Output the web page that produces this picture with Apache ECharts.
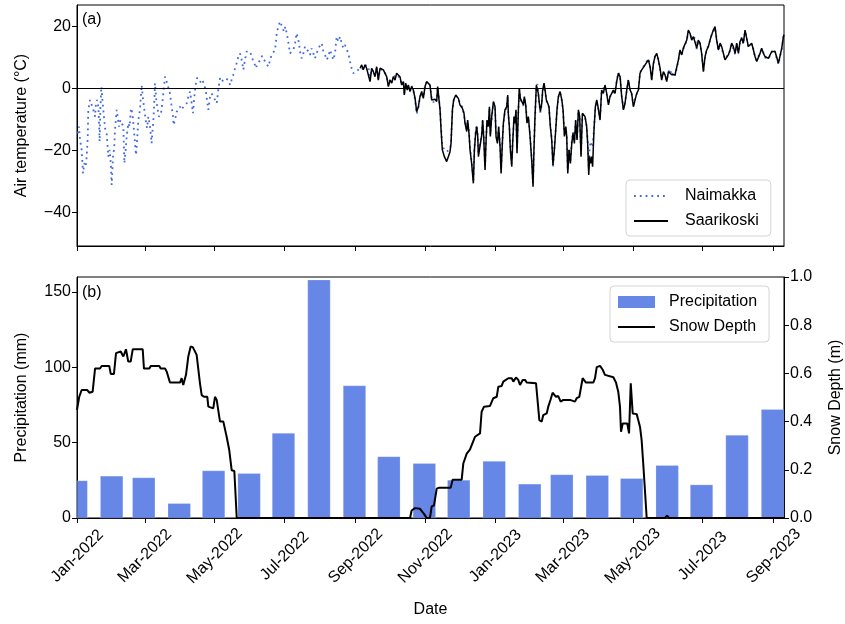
<!DOCTYPE html>
<html><head><meta charset="utf-8">
<script src="https://cdn.jsdelivr.net/npm/echarts@6/dist/echarts.min.js"></script>
<style>html,body{margin:0;padding:0;background:#fff}#c{width:845px;height:624px}</style>
</head><body><div id="c"></div>
<script>
// ---- data (days counted from 2022-01-01) ----
const startDate = '2022-01-01';
const xTickDates = ['2022-01-01','2022-03-01','2022-05-01','2022-07-01','2022-09-01','2022-11-01','2023-01-01','2023-03-01','2023-05-01','2023-07-01','2023-09-01'];
const monthNames = ['Jan','Feb','Mar','Apr','May','Jun','Jul','Aug','Sep','Oct','Nov','Dec'];
const tempTicks = [-40, -20, 0, 20];
const precipTicks = [0, 50, 100, 150];
const snowTicks = [0, 0.2, 0.4, 0.6, 0.8, 1.0];

// Naimakka only (Jan - early Sep 2022)
const earlyDays = [0.3,1.5,2.4,3.8,5.0,6.1,7.3,8.2,9.1,9.6,11.1,12.5,14.0,15.5,16.0,17.2,18.4,18.9,19.5,20.1,21.0,21.9,23.0,24.2,25.6,26.5,27.1,28.3,29.4,30.0,31.2,32.3,32.9,34.4,35.2,36.4,37.6,38.7,40.2,41.1,42.2,43.1,44.6,45.7,46.9,48.1,49.2,50.4,51.3,52.4,53.3,54.7,56.2,57.1,58.2,59.7,60.9,62.0,63.5,64.9,66.4,67.3,67.8,69.0,70.2,71.3,73.1,74.2,75.4,76.6,78.0,79.5,80.9,82.4,83.6,84.1,85.3,86.8,88.2,89.7,91.1,92.6,94.0,95.5,97.0,98.4,99.9,101.0,102.2,103.3,104.5,106.3,108.0,109.5,110.9,112.1,113.2,114.4,115.9,117.3,118.8,120.2,121.7,123.1,124.6,126.1,127.5,129.0,130.4,131.9,133.3,134.8,136.2,137.7,139.1,140.6,142.1,143.5,145.0,146.4,147.9,149.3,150.8,152.2,153.7,155.1,156.0,157.2,158.9,160.1,161.3,162.4,163.9,165.3,166.8,168.3,169.7,171.2,172.6,173.5,174.1,175.5,177.0,178.4,179.3,180.5,181.6,182.8,183.7,184.6,185.7,187.2,188.6,190.1,191.5,193.0,193.9,194.4,195.9,197.4,198.8,200.3,201.7,203.2,204.6,206.1,207.5,209.0,210.4,211.9,213.4,214.8,216.3,217.7,219.2,220.6,222.1,223.5,225.0,226.4,227.9,229.4,230.8,232.3,233.7,235.2,236.6,238.1,239.5,241.0,243.9];
const naimakkaEarlyTemp = [-14.5,-12.3,-16.6,-19.8,-27.4,-24.1,-25.2,-22,-15.5,-6.9,-3.7,-3.5,-6.9,-9.1,-5.9,-3.7,-5.9,-10.2,-17.1,-6.9,0.6,-3.7,-8,-12.8,-14.5,-18.8,-22,-19.8,-25.2,-31.1,-22,-18.8,-13.4,-6.9,-9.1,-12.3,-10.2,-9.6,-12.3,-24.1,-19.8,-15.5,-11.2,-12.3,-6.4,-8,-12.3,-17.7,-21.5,-15.5,-10.2,-6.9,1.1,-2.6,-5.9,-10.2,-12.8,-9.1,-12.3,-17.7,-10.2,-3.7,1.7,-3.7,-6.9,-9.1,-8,-4.8,-0.5,3.8,2.2,1.7,-1.6,-5.9,-9.1,-11.8,-10.2,-7.5,-6.9,-5.9,-6.9,-5.9,-6.4,-4.8,-2.6,-1,-4.8,-8,-2.6,1.1,3.3,3.3,1.7,2.5,2.2,-0.5,-3.7,-6.9,-2.6,-1.6,-2.6,-2.8,-4.8,-0.5,3.3,2.2,1.7,3.3,3.8,2.7,1.1,1.7,4.4,6.5,8.1,10.3,11.3,9.2,6,9.2,11.9,11.3,11.9,10.3,8.7,7.6,6.5,8.1,7.6,9.2,10.5,10.5,8.7,8.1,7,9.2,10.8,10.3,12.4,15.1,17.8,19.9,21.6,21,19.4,18.3,19.9,17.8,16.2,14,11.3,10.8,12.4,14.6,17.8,15.6,13.5,11.9,9.7,11.3,13.5,12.9,11.9,10.8,12.9,11.3,9.7,10.3,12.9,13.5,14.6,11.9,10.8,9.2,10.3,12.4,10.8,9.2,11.3,16.7,15.1,16.7,14.6,13,14,14.6,11.3,8.7,6.5,4.9,5.4];

// both stations (Sep 2022 - Sep 2023)
const lateDays = [246.9,248.3,249.7,251.2,252.6,254.1,255.6,257.0,258.5,259.9,261.4,262.8,264.3,265.7,267.2,268.7,270.1,271.6,273.0,274.5,275.9,277.4,278.8,280.3,281.7,283.2,284.7,285.5,286.7,288.1,289.0,290.5,291.9,293.4,294.9,296.3,297.8,299.2,300.7,302.1,303.6,
305.0,306.5,307.9,309.4,310.9,312.3,313.8,314.6,315.8,316.7,317.6,318.7,320.5,322.5,324.0,325.4,326.3,327.5,328.6,330.4,331.8,332.7,334.1,336.2,337.6,338.5,340.0,340.8,342.0,342.9,344.3,345.8,346.7,347.8,348.7,349.6,350.2,351.6,353.1,353.9,354.8,356.0,356.8,357.7,358.9,359.8,360.6,361.8,363.3,364.7,365.6,366.8,367.9,369.1,370.0,371.1,372.0,373.4,374.9,375.8,376.3,377.2,378.1,379.3,380.1,381.3,382.2,383.0,383.9,385.1,385.9,386.8,388.0,389.5,390.3,391.5,392.6,393.8,395.3,396.7,397.9,398.7,399.6,400.8,401.7,402.5,403.4,404.3,405.5,406.3,407.5,408.4,409.5,410.7,411.8,413.0,414.2,415.3,416.5,417.7,418.8,420.0,421.5,423.0,424.1,425.3,426.5,427.3,428.2,429.3,430.5,431.7,432.8,434.0,435.1,436.3,437.5,438.6,439.8,441.0,442.1,443.3,444.7,445.6,446.5,447.3,448.2,449.1,449.9,451.1,452.3,453.5,454.6,
456.4,457.8,459.3,460.7,462.2,463.7,465.1,466.6,468.0,469.5,470.9,472.4,473.9,475.3,476.8,478.2,479.7,481.1,482.6,484.0,485.5,487.0,488.4,489.9,491.3,492.8,494.2,495.7,497.1,498.6,500.1,501.5,503.0,504.4,505.9,507.3,508.8,510.2,511.7,513.1,514.6,516.1,517.5,519.0,520.4,521.9,523.3,524.8,526.2,527.7,529.1,530.6,532.1,533.5,535.0,536.4,537.9,539.3,540.8,542.2,543.7,545.1,546.6,548.1,549.5,551.0,552.4,553.9,555.3,556.8,558.2,559.7,561.2,562.6,564.1,565.5,567.0,568.4,569.9,571.3,572.8,574.3,575.7,577.2,578.6,580.1,581.5,583.0,584.4,585.9,587.4,588.8,590.3,591.7,593.2,594.6,596.1,597.5,599.0,600.4,601.9,603.4,604.8,606.3,607.7,609.2,610.6,612.1,613.6,615.0,616.5,617.0];
const saarikoskiTemp = [6.5,7.6,6,7.6,6.5,7,2.2,6.5,5.4,3.8,7,2.7,6.5,7,6,5.4,3.8,0.6,2.7,1.7,3.8,2.7,4.9,5.4,3.8,1.1,2.2,-2.1,1.7,-0.5,1.1,-1,0.6,-0.5,-3.2,-7.5,-5.9,-2.6,-1,-3.2,0.6,
2.2,2.2,1.1,-3.7,-4.2,-3.5,-4.2,0.6,-3.7,-6.9,-13.4,-19.8,-22,-23.6,-23.1,-20.4,-17.7,-6.9,-3.7,-2.1,-1.6,-3.2,-5.3,-6.4,-8,-11.2,-13.9,-10.2,-14.5,-19.8,-24.2,-30.6,-19.8,-14.5,-12.3,-15.5,-22,-21.5,-15,-10.2,-15.5,-26.3,-17.7,-10.2,-12.3,-5.9,-15.5,-9.1,-4.2,-5.9,-15.5,-17.7,-12.3,-18.8,-27.4,-17.7,-11.2,-6.9,-5.9,-2.1,-8,-12.3,-19.8,-25.2,-17.7,-9.1,-11.2,-6.9,-20.9,-6.9,0.1,-3.2,-2.6,-5.3,-2.6,-5.3,-11.2,-9.1,-15.5,-23.1,-31.7,-19.8,-9.1,1.1,1.7,-1.6,-4.8,-7.5,-4.8,-0.5,1.7,-0.5,-3.7,-4.8,-5.9,-12.3,-16.6,-24.7,-19.8,-13.4,-6.9,-2.6,-1,-3.7,-6.9,-15.5,-12.3,-15.5,-27.4,-19.8,-24.2,-17.7,-14.5,-17.7,-10.2,-16.6,-6.9,-9.1,-22,-8,-8,-9.1,-12.3,-17.7,-27.9,-22,-24.2,-22,-25.2,-13.4,-5.9,-3.7,-5.9,
-10.2,-0.5,-1.6,1.1,-1.6,-5.3,-2.6,-1.6,-0.5,-1.6,2.2,4.9,3.8,-2.6,-6.9,-4.8,-0.5,2.7,-0.5,-1.6,-5.9,-3.7,-1.6,-0.5,4.9,6,6.5,7.6,8.1,9.2,7,2.7,8.1,10.3,11.3,9.2,6.5,2.7,5.4,4.4,2.2,5.4,6,4.4,4.9,4.4,3.8,9.2,12.4,10.8,13,12.4,15.6,18.8,17.7,15.6,16.7,16.7,13,15.6,14.6,11.3,5.4,10.3,12.4,13.5,15.6,17.3,18.8,19.9,15.6,12.4,14.6,13.5,11.3,9.2,9.2,10.8,12.4,14.6,13.5,11.3,14.6,11.3,15.1,16.2,14.6,18.8,16.2,13.5,13,14.6,12.4,10.3,8.7,9.2,11.3,13,11.3,10.3,10.3,9.7,10.3,11.9,12.4,11.9,11.3,8.1,7.6,12.9,16.7,17.3];
const naimakkaLateTemp = [6.8,7.2,6.3,7.4,6.8,7.3,2.8,6.2,5.6,4.2,6.6,3.1,6.2,6.6,5.8,5.0,3.6,1.0,2.9,1.9,3.5,2.9,4.5,5.1,3.4,1.3,2.0,-1.6,1.5,-0.2,0.9,-0.6,0.9,-0.8,-3.6,-8.2,-6.2,-2.9,-1.3,-2.8,0.9,
2.0,2.4,1.3,-3.3,-4.5,-3.2,-3.9,0.3,-3.4,-6.4,-12.6,-18.5,-19.8,-20.4,-20.6,-19.6,-16.9,-7.4,-3.9,-2.4,-1.9,-3.0,-5.0,-6.0,-8.4,-10.8,-13.2,-10.6,-14.0,-19.2,-23.5,-29.8,-19.2,-13.9,-11.8,-14.8,-21.1,-20.7,-14.6,-10.5,-15.1,-25.2,-17.1,-10.6,-12.0,-6.3,-14.9,-9.5,-4.6,-6.2,-14.8,-17.1,-12.6,-18.1,-26.4,-17.2,-11.5,-7.2,-6.2,-2.5,-8.3,-12.0,-19.1,-24.3,-17.2,-9.4,-11.0,-7.3,-19.9,-7.2,-0.3,-3.5,-2.9,-5.6,-2.9,-5.0,-10.8,-9.4,-15.0,-22.3,-30.6,-19.2,-9.5,0.7,1.4,-1.9,-5.1,-7.8,-5.1,-0.8,1.4,-0.8,-3.9,-5.1,-6.2,-11.8,-16.0,-25.7,-19.1,-13.0,-7.2,-2.9,-1.3,-3.9,-7.2,-14.9,-12.6,-15.0,-26.4,-19.2,-23.4,-17.2,-14.0,-17.1,-10.6,-16.0,-7.2,-9.4,-21.2,-8.3,-8.3,-9.4,-12.0,-17.0,-26.1,-19.5,-17.1,-17.6,-19.0,-13.0,-6.2,-4.0,-6.2,
-9.6,-0.8,-1.3,0.8,-1.9,-5.0,-2.9,-1.3,-0.8,-1.3,2.5,5.2,3.5,-2.3,-6.5,-4.5,-0.8,3.0,-0.2,-1.9,-5.5,-3.4,-1.9,-0.2,5.2,6.3,6.2,7.9,8.4,9.6,7.3,3.0,7.8,10.7,11.0,9.5,6.2,3.0,5.1,4.7,2.5,5.1,6.3,4.1,5.2,4.1,4.1,8.9,12.1,11.1,12.7,12.7,15.3,18.4,17.4,15.9,16.4,16.4,12.7,15.3,14.3,11.6,5.7,10.0,12.7,13.2,15.3,17.6,18.5,19.5,15.9,12.1,14.3,13.8,11.0,9.5,8.9,11.1,12.1,14.3,13.8,11.0,14.3,11.6,14.8,16.5,14.3,18.4,16.5,13.2,13.3,14.3,12.7,10.0,9.0,8.9,11.6,12.7,11.6,10.0,10.6,9.4,10.6,11.6,12.7,11.6,11.6,7.8,7.9,12.6,16.4,17.6];

// monthly precipitation (plotted at month end, bar width in days)
const precipDates = ['2021-12-31','2022-01-31','2022-02-28','2022-03-31','2022-04-30','2022-05-31','2022-06-30','2022-07-31','2022-08-31','2022-09-30','2022-10-31','2022-11-30','2022-12-31','2023-01-31','2023-02-28','2023-03-31','2023-04-30','2023-05-31','2023-06-30','2023-07-31','2023-08-31'];
const precipValues = [24.7,27.8,26.7,9.6,31.3,29.6,56.2,158,87.8,40.7,36.2,25.1,37.6,22.5,28.7,28.2,26.2,34.9,22.0,54.9,72.0];
const barWidthDays = 19.6;

// snow depth (m)
const snowDays = [-0.3,1.7,3.8,8.7,10.5,13.4,15.5,19.8,21.3,27.9,29.2,32.0,33.8,37.9,40.2,42.5,44.5,46.6,48.4,57.1,58.2,62.9,64.1,71.6,72.8,76.6,78.1,80.9,89.7,91.1,92.5,94.9,96.9,99.0,100.8,104.2,107.1,108.6,110.6,113.5,114.4,118.7,120.2,121.7,124.6,127.5,130.4,132.7,134.8,137.1,139.2,
290.5,291.9,294.8,299.2,302.7,305.0,307.9,309.4,311.4,313.8,316.0,326.0,327.7,335.6,337.0,340.0,342.8,347.2,348.7,351.6,353.0,355.1,360.3,363.2,366.2,367.6,370.5,371.9,376.3,379.3,380.7,383.0,385.0,386.5,388.9,390.9,392.4,400.5,403.4,405.5,406.8,409.8,411.2,413.3,415.0,417.9,419.9,422.0,424.3,430.2,431.6,434.5,436.0,438.3,439.5,441.2,442.4,444.1,450.5,452.0,453.5,456.4,458.7,460.7,462.2,468.0,470.3,472.3,473.8,474.7,476.2,480.2,481.7,483.2,484.3,484.9,488.4,489.8,491.3,492.7,494.1,495.6,497.1,513.1,514.9,516.6,617.0];
const snowDepth = [0.448,0.503,0.531,0.531,0.52,0.524,0.62,0.62,0.631,0.631,0.598,0.598,0.684,0.691,0.67,0.70,0.649,0.649,0.70,0.70,0.62,0.62,0.631,0.631,0.62,0.62,0.607,0.562,0.562,0.58,0.552,0.594,0.67,0.712,0.709,0.677,0.559,0.51,0.503,0.503,0.462,0.455,0.503,0.49,0.40,0.40,0.337,0.281,0.198,0.195,0,
0,0.031,0.041,0.038,0.017,0,0,0.048,0.052,0.122,0.126,0.126,0.159,0.159,0.226,0.267,0.284,0.337,0.344,0.351,0.441,0.462,0.465,0.497,0.503,0.545,0.548,0.566,0.58,0.58,0.566,0.583,0.573,0.552,0.573,0.573,0.562,0.559,0.406,0.40,0.427,0.434,0.462,0.493,0.52,0.503,0.506,0.483,0.49,0.49,0.483,0.483,0.497,0.503,0.503,0.58,0.583,0.562,0.562,0.58,0.626,0.631,0.615,0.594,0.587,0.584,0.562,0.524,0.462,0.358,0.392,0.392,0.351,0.559,0.566,0.434,0.431,0.406,0.378,0.323,0.226,0.115,0,0,0.01,0,0];

// ---- chart ----
const DAY = 86400000;
const T0 = Date.parse(startDate);
const ts = d => T0 + d * DAY;
const zip = (days, vals) => days.slice(0, Math.min(days.length, vals.length)).map((d, i) => [ts(d), vals[i]]);
const xMin = ts(-0.26), xMax = ts(617.0);
const xTicks = xTickDates.map(s => Date.parse(s));
const FONT = "'Liberation Sans', Arial, sans-serif";
const fmtDate = v => { const d = new Date(v); return monthNames[d.getUTCMonth()] + '-' + d.getUTCFullYear(); };
const minus = v => (v < 0 ? '\u2212' + Math.abs(v) : String(v));
const black = '#000';
const barColor = 'rgba(65,105,225,0.8)';

const naimakkaData = zip(earlyDays, naimakkaEarlyTemp).concat(zip(lateDays, naimakkaLateTemp));
const saarikoskiData = zip(lateDays, saarikoskiTemp);
const precipData = precipDates.map((s, i) => [Date.parse(s), precipValues[i]]);
const snowData = zip(snowDays, snowDepth);

function renderBar(params, api) {
  const x = api.value(0), y = api.value(1);
  const base = api.coord([x, 0]);
  const top = api.coord([x, y]);
  const w = api.size([barWidthDays * DAY, 0])[0];
  const cs = params.coordSys;
  const shape = echarts.graphic.clipRectByRect(
    {x: base[0] - w / 2, y: top[1], width: w, height: base[1] - top[1]},
    {x: cs.x, y: cs.y, width: cs.width, height: cs.height});
  if (!shape) return null;
  return {type: 'rect', shape: shape, style: {fill: barColor, stroke: 'rgba(255,255,255,0.35)', lineWidth: 0.6}};
}

const chart = echarts.init(document.getElementById('c'), null, {renderer: 'canvas'});
const axisCommon = {
  axisLine: {show: true, onZero: false, lineStyle: {color: black, width: 1}},
  splitLine: {show: false}
};
const legendCommon = {
  orient: 'vertical', itemHeight: 12, itemGap: 9,
  backgroundColor: 'rgba(255,255,255,0.8)', borderColor: '#d4d4d4', borderWidth: 1, borderRadius: 4
};
chart.setOption({
  animation: false,
  backgroundColor: '#fff',
  textStyle: {fontFamily: FONT, color: black},
  grid: [
    {left: 77, top: 5, width: 707, height: 241, show: true, borderColor: black, borderWidth: 1,
     backgroundColor: 'transparent', containLabel: false, outerBoundsMode: 'none'},
    {left: 77, top: 277, width: 707, height: 241, show: true, borderColor: black, borderWidth: 1,
     backgroundColor: 'transparent', containLabel: false, outerBoundsMode: 'none'}
  ],
  graphic: [
    {type: 'text', left: 82, top: 12, style: {text: '(a)', font: '16px ' + FONT, fill: black}},
    {type: 'text', left: 82, top: 285, style: {text: '(b)', font: '16px ' + FONT, fill: black}}
  ],
  legend: [
    Object.assign({data: ['Naimakka', 'Saarikoski'], left: 626, top: 180, itemWidth: 34,
     padding: [8, 12, 7, 7], itemStyle: {opacity: 0},
     textStyle: {fontSize: 16, color: black, fontFamily: FONT, padding: [0, 0, 0, 12]}}, legendCommon),
    Object.assign({data: [{name: 'Precipitation', icon: 'rect', itemStyle: {color: barColor}},
                          {name: 'Snow Depth', itemStyle: {opacity: 0}}], left: 610, top: 286, itemWidth: 37,
     padding: [8, 12, 7, 7],
     textStyle: {fontSize: 16, color: black, fontFamily: FONT, padding: [0, 0, 0, 9]}}, legendCommon)
  ],
  xAxis: [
    Object.assign({type: 'value', gridIndex: 0, min: xMin, max: xMax,
      axisTick: {show: true, length: 5, customValues: xTicks, lineStyle: {color: black}},
      axisLabel: {show: false}}, axisCommon),
    Object.assign({type: 'value', gridIndex: 1, min: xMin, max: xMax,
      name: 'Date', nameLocation: 'middle', nameGap: 84, nameTextStyle: {fontSize: 16, color: black, fontFamily: FONT},
      axisTick: {show: true, length: 5, customValues: xTicks, lineStyle: {color: black}},
      axisLabel: {customValues: xTicks, formatter: fmtDate, rotate: 45, align: 'center', verticalAlign: 'middle',
                  margin: 38, fontSize: 16, color: black, fontFamily: FONT, hideOverlap: false}}, axisCommon)
  ],
  yAxis: [
    Object.assign({type: 'value', gridIndex: 0, min: -50.8, max: 26.9,
      name: 'Air temperature (°C)', nameLocation: 'middle', nameRotate: 90, nameGap: 47,
      nameTextStyle: {fontSize: 16, color: black, fontFamily: FONT},
      axisTick: {show: true, length: 5, customValues: tempTicks, lineStyle: {color: black}},
      axisLabel: {customValues: tempTicks, formatter: minus, fontSize: 16, color: black, fontFamily: FONT, margin: 6}}, axisCommon),
    Object.assign({type: 'value', gridIndex: 1, min: 0, max: 160,
      name: 'Precipitation (mm)', nameLocation: 'middle', nameRotate: 90, nameGap: 47,
      nameTextStyle: {fontSize: 16, color: black, fontFamily: FONT},
      axisTick: {show: true, length: 5, customValues: precipTicks, lineStyle: {color: black}},
      axisLabel: {customValues: precipTicks, fontSize: 16, color: black, fontFamily: FONT, margin: 6}}, axisCommon),
    Object.assign({type: 'value', gridIndex: 1, position: 'right', min: 0, max: 1,
      name: 'Snow Depth (m)', nameLocation: 'middle', nameRotate: 90, nameGap: 44,
      nameTextStyle: {fontSize: 16, color: black, fontFamily: FONT},
      axisTick: {show: true, length: 5, customValues: snowTicks, lineStyle: {color: black}},
      axisLabel: {customValues: snowTicks, formatter: v => v.toFixed(1), fontSize: 16, color: black, fontFamily: FONT, margin: 6}}, axisCommon)
  ],
  series: [
    {name: 'Naimakka', type: 'line', xAxisIndex: 0, yAxisIndex: 0, data: naimakkaData,
     symbol: 'none', showSymbol: false, z: 2,
     lineStyle: {color: '#4169E1', width: 1.8, type: [1.8, 4]}, itemStyle: {color: '#4169E1'}},
    {name: 'Saarikoski', type: 'line', xAxisIndex: 0, yAxisIndex: 0, data: saarikoskiData,
     symbol: 'none', showSymbol: false, z: 3,
     lineStyle: {color: black, width: 1.5}, itemStyle: {color: black},
     markLine: {silent: true, symbol: ['none', 'none'], label: {show: false},
                lineStyle: {color: black, width: 1.2, type: 'solid'}, data: [{yAxis: 0}]}},
    {name: 'Precipitation', type: 'custom', xAxisIndex: 1, yAxisIndex: 1, data: precipData,
     renderItem: renderBar, z: 2, itemStyle: {color: barColor}},
    {name: 'Snow Depth', type: 'line', xAxisIndex: 1, yAxisIndex: 2, data: snowData,
     symbol: 'none', showSymbol: false, z: 4,
     lineStyle: {color: black, width: 2}, itemStyle: {color: black}}
  ]
});
</script></body></html>
